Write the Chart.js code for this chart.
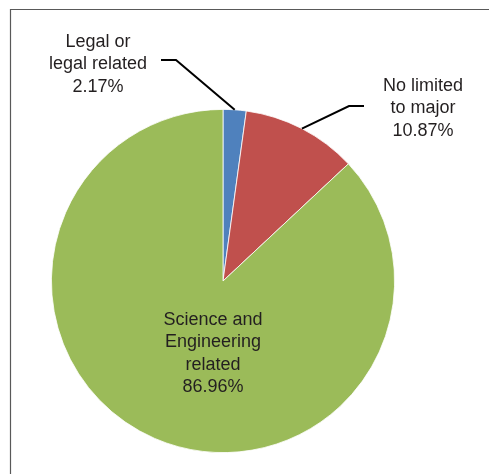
<!DOCTYPE html>
<html>
<head>
<meta charset="utf-8">
<script src="https://cdn.jsdelivr.net/npm/chart.js@4.4.0/dist/chart.umd.min.js"></script>
<style>
  html, body { margin: 0; padding: 0; background: #fff; }
  #wrap { width: 489px; height: 474px; }
</style>
</head>
<body>
<div id="wrap"><canvas id="majorChart" width="489" height="474"></canvas></div>
<script>
// categories and their shares (%)
const majors = ["Legal or legal related", "No limited to major", "Science and Engineering related"];
const shares = [2.17, 10.87, 86.96];
// how each category name is broken over lines in its label
const nameLines = [
  ["Legal or", "legal related"],
  ["No limited", "to major"],
  ["Science and", "Engineering", "related"],
];
const sliceColors = ["#4F81BD", "#C0504D", "#9BBB59"];

// where each label sits; outside labels get a leader line (elbow + end)
const labelPlaces = [
  { x: 98, y: 42, elbow: [176, 60], end: [161, 60] },
  { x: 423, y: 86, elbow: [349, 106], end: [364, 106] },
  { x: 213, y: 320 },
];

// frame around the plot (top and left edges only show)
const framePlugin = {
  id: "frame",
  beforeDraw(chart) {
    const ctx = chart.ctx;
    ctx.save();
    ctx.strokeStyle = "#595959";
    ctx.lineWidth = 1.2;
    ctx.beginPath();
    ctx.moveTo(10.5, 474);
    ctx.lineTo(10.5, 9.5);
    ctx.lineTo(489, 9.5);
    ctx.stroke();
    ctx.restore();
  },
};

// labels with name + percentage, leader lines for the small slices
const sliceLabels = {
  id: "sliceLabels",
  afterDatasetsDraw(chart) {
    const ctx = chart.ctx;
    const arcs = chart.getDatasetMeta(0).data;
    ctx.save();
    arcs.forEach((arc, i) => {
      const p = labelPlaces[i];
      if (p.elbow) {
        const mid = (arc.startAngle + arc.endAngle) / 2;
        const sx = arc.x + arc.outerRadius * Math.cos(mid);
        const sy = arc.y + arc.outerRadius * Math.sin(mid);
        ctx.strokeStyle = "#000";
        ctx.lineWidth = 2;
        ctx.beginPath();
        ctx.moveTo(sx, sy);
        ctx.lineTo(p.elbow[0], p.elbow[1]);
        ctx.lineTo(p.end[0], p.end[1]);
        ctx.stroke();
      }
      const lines = nameLines[i].concat([shares[i].toFixed(2) + "%"]);
      ctx.fillStyle = "#231F20";
      ctx.font = "18px 'Liberation Sans', Arial, sans-serif";
      ctx.textAlign = "center";
      ctx.textBaseline = "middle";
      lines.forEach((t, k) => ctx.fillText(t, p.x, p.y + k * 22.5));
    });
    ctx.restore();
  },
};

new Chart(document.getElementById("majorChart"), {
  type: "pie",
  data: {
    labels: majors,
    datasets: [
      {
        data: shares,
        backgroundColor: sliceColors,
        borderColor: "#fff",
        borderWidth: 0.8,
      },
    ],
  },
  options: {
    responsive: false,
    animation: false,
    layout: { padding: { left: 51, right: 94, top: 109, bottom: 21 } },
    plugins: {
      legend: { display: false },
      tooltip: { enabled: false },
    },
  },
  plugins: [framePlugin, sliceLabels],
});
</script>
</body>
</html>
